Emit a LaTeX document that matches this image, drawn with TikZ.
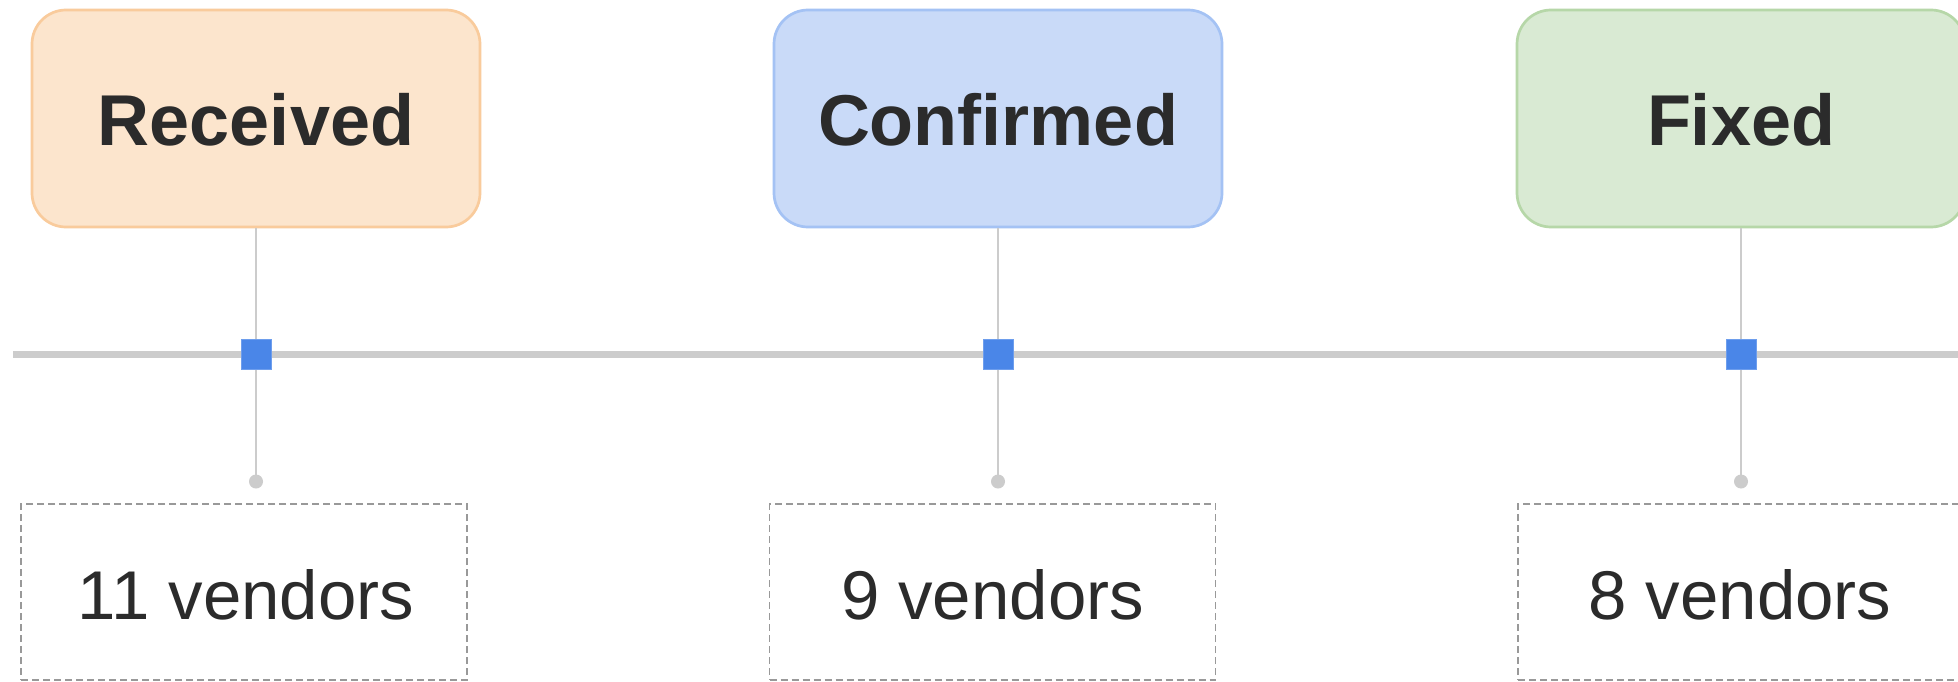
\documentclass[tikz,border=0pt]{standalone}
\usepackage{fontspec}
\setmainfont{Liberation Sans}
\definecolor{txt}{HTML}{2B2B2B}
\definecolor{recfill}{HTML}{FCE5CD}
\definecolor{recline}{HTML}{F9CB9C}
\definecolor{conffill}{HTML}{C9DAF8}
\definecolor{confline}{HTML}{A4C2F4}
\definecolor{fixfill}{HTML}{D9EAD3}
\definecolor{fixline}{HTML}{B6D7A8}
\definecolor{axis}{HTML}{CCCCCC}
\definecolor{mark}{HTML}{4A86E8}
\definecolor{dash}{HTML}{999999}
\tikzset{
  stage/.style={draw, line width=2.7pt, rounded corners=34pt, minimum width=448pt, minimum height=217pt, inner sep=0pt},
  stagetext/.style={text=txt, font=\fontsize{72}{80}\selectfont\bfseries, anchor=base, inner sep=0pt},
  marker/.style={fill=mark, draw=mark!80!white, line width=0.8pt, minimum width=30pt, minimum height=30pt, inner sep=0pt},
  stem/.style={draw=axis, line width=2pt},
  knob/.style={circle, fill=axis, minimum size=14pt, inner sep=0pt},
  countbox/.style={draw=dash, line width=1.6pt, dash pattern=on 7pt off 4pt, minimum width=446pt, minimum height=176pt, inner sep=0pt},
  counttext/.style={text=txt, font=\fontsize{69}{76}\selectfont, anchor=base, inner sep=0pt}
}
\begin{document}
\begin{tikzpicture}[x=1pt,y=-1pt]
\clip (0,0) rectangle (1958,682);
\fill[white] (0,0) rectangle (1958,682);
% timeline
\coordinate (tl) at (13,354.5);
\coordinate (tr) at (1970,354.5);
\draw[axis, line width=7.5pt] (tl) -- (tr);
% stage boxes
\node[stage, fill=recfill, draw=recline] (r1) at (256,118.5) {};
\node[stage, fill=conffill, draw=confline] (r2) at (998,118.5) {};
\node[stage, fill=fixfill, draw=fixline] (r3) at (1741,118.5) {};
\node[stagetext] (t1) at (256,145) {Received};
\node[stagetext] (t2) at (998,145) {Confirmed};
\node[stagetext] (t3) at (1741,145) {Fixed};
% knobs
\node[knob] (k1) at (256,481.5) {};
\node[knob] (k2) at (998,481.5) {};
\node[knob] (k3) at (1741,481.5) {};
% stems
\draw[stem] (r1.south) -- (k1.center);
\draw[stem] (r2.south) -- (k2.center);
\draw[stem] (r3.south) -- (k3.center);
% markers
\node[marker] (m1) at (256,354.5) {};
\node[marker] (m2) at (998,354.5) {};
\node[marker] (m3) at (1741,354.5) {};
% count boxes
\node[countbox] (c1) at (244,592) {};
\node[countbox] (c2) at (992.5,592) {};
\node[countbox] (c3) at (1741,592) {};
\node[counttext] (n1) at (246,619) {11 vendors};
\node[counttext] (n2) at (992.5,619) {9 vendors};
\node[counttext] (n3) at (1740,619) {8 vendors};
\end{tikzpicture}
\end{document}
